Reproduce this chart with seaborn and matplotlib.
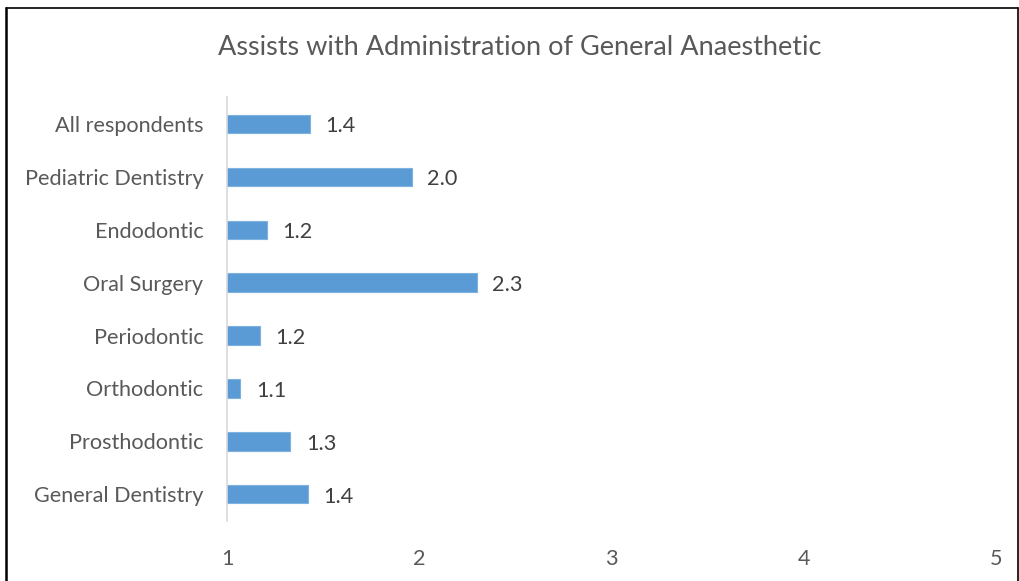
import pandas as pd
import matplotlib.pyplot as plt
import seaborn as sns

# Data
categories = ["All respondents", "Pediatric Dentistry", "Endodontic", "Oral Surgery",
              "Periodontic", "Orthodontic", "Prosthodontic", "General Dentistry"]
values = [1.43, 1.96, 1.21, 2.30, 1.17, 1.07, 1.33, 1.42]
x_ticks = [1, 2, 3, 4, 5]

df = pd.DataFrame({"category": categories, "value": values})

sns.set_style("white")
plt.rcParams["font.family"] = ["Lato", "DejaVu Sans"]

fig = plt.figure(figsize=(10.2, 5.81), dpi=100)
ax = fig.add_axes([0.2225, 0.1033, 0.754, 0.7297])

sns.barplot(data=df, x="value", y="category", orient="h", color="#5B9BD5",
            width=0.34, edgecolor="#7EB0E0", linewidth=0.8, saturation=1, ax=ax)

ax.set_xlim(1, 5)
ax.set_ylim(7.5, -0.5)
ax.set_xticks(x_ticks)
ax.set_xlabel("")
ax.set_ylabel("")

for name in ["top", "right", "bottom"]:
    ax.spines[name].set_visible(False)
ax.spines["left"].set_color("#D9D9D9")
ax.spines["left"].set_linewidth(1.2)

ax.tick_params(axis="x", length=0, pad=20, labelsize=15.6, labelcolor="#595959")
ax.tick_params(axis="y", length=0, pad=17, labelsize=15.6, labelcolor="#595959")

labels = ax.bar_label(ax.containers[0], fmt="%.1f", padding=11, fontsize=15.6, color="#404040")
for t in labels:
    t.xyann = (11, -1.5)

fig.text(0.51, 0.918, "Assists with Administration of General Anaesthetic",
         ha="center", va="center", fontsize=19.5, color="#595959")

# black frame around chart (left, top, right)
fig.add_artist(plt.Line2D([0.0055, 0.0055], [0, 0.986], color="black", lw=1.8,
                          transform=fig.transFigure))
fig.add_artist(plt.Line2D([0.0055, 0.998], [0.986, 0.986], color="black", lw=1.2,
                          transform=fig.transFigure))
fig.add_artist(plt.Line2D([0.998, 0.998], [0, 0.986], color="black", lw=1.2,
                          transform=fig.transFigure))

plt.savefig("out.png", dpi=100)
